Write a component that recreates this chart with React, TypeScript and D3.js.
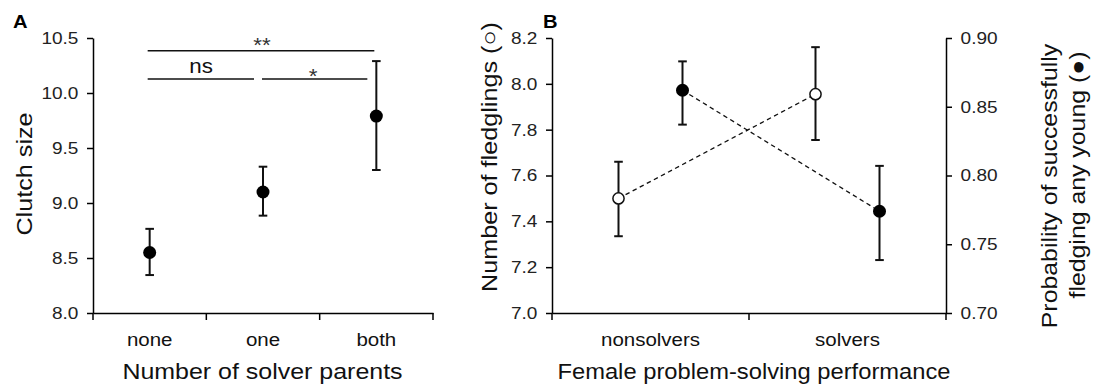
import { useEffect, useRef } from 'react';
import * as d3 from 'd3';

// Panel A: clutch size by number of solver parents
const parentGroups = ['none', 'one', 'both'];
const clutchMean = [8.55, 9.1, 9.79];
const clutchLower = [8.345, 8.885, 9.3];
const clutchUpper = [8.765, 9.33, 10.29];
const clutchTicks = [8.0, 8.5, 9.0, 9.5, 10.0, 10.5];

// Panel B: female problem-solving performance
const femaleGroups = ['nonsolvers', 'solvers'];
const fledglingMean = [7.5, 7.955];
const fledglingLower = [7.335, 7.755];
const fledglingUpper = [7.66, 8.16];
const successMean = [0.862, 0.774];
const successLower = [0.837, 0.7385];
const successUpper = [0.883, 0.807];
const fledglingTicks = [7.0, 7.2, 7.4, 7.6, 7.8, 8.0, 8.2];
const successTicks = [0.7, 0.75, 0.8, 0.85, 0.9];

const FONT = '"Liberation Sans", Arial, sans-serif';
const STRETCH = 'scale(1.12,1)';

export default function App() {
  const svgRef = useRef<SVGSVGElement>(null);
  const width = 1095;
  const height = 387;

  useEffect(() => {
    if (!svgRef.current) return;
    const svg = d3.select(svgRef.current);
    svg.selectAll('*').remove();
    svg.attr('font-family', FONT);

    const top = 38;
    const bottom = 313;

    // text helper: slightly wide glyphs like the original figure
    const label = (
      parent: d3.Selection<SVGGElement, unknown, null, undefined>,
      x: number, y: number, txt: string, size: number,
      opts: { rotate?: boolean; anchor?: string; weight?: string; fill?: string } = {}
    ) => {
      parent.append('g')
        .attr('transform', `translate(${x},${y})${opts.rotate ? ' rotate(-90)' : ''}`)
        .append('text')
        .attr('transform', STRETCH)
        .attr('text-anchor', opts.anchor ?? 'middle')
        .attr('font-size', size)
        .attr('font-weight', opts.weight ?? 'normal')
        .attr('fill', opts.fill ?? '#111')
        .text(txt);
    };

    const styleAxis = (a: d3.Selection<SVGGElement, unknown, null, undefined>, size: number) => {
      a.selectAll('path,line').attr('stroke', '#000').attr('stroke-width', 1.5);
      a.selectAll('text').attr('font-size', size).attr('fill', '#222').attr('font-family', FONT)
        .attr('transform', STRETCH);
    };

    // ---------- Panel A ----------
    const xA = d3.scaleBand().domain(parentGroups).range([93, 433]);
    const yA = d3.scaleLinear().domain([8, 10.5]).range([bottom, top]);
    const gA = svg.append('g');

    const axA = gA.append('g').attr('transform', 'translate(93,0)')
      .call(d3.axisLeft(yA).tickValues(clutchTicks).tickSize(6).tickSizeOuter(0).tickPadding(7).tickFormat(d3.format('.1f')));
    const axAx = gA.append('g').attr('transform', `translate(0,${bottom})`)
      .call(d3.axisBottom(xA).tickSize(0).tickPadding(20));
    styleAxis(axA, 17);
    styleAxis(axAx, 18.3);
    axAx.selectAll('text').attr('fill', '#111');

    const boundsA = [93, ...parentGroups.map(g => (xA(g) as number) + xA.bandwidth())];
    gA.selectAll('.btA').data(boundsA).enter().append('line')
      .attr('x1', d => d).attr('x2', d => d).attr('y1', bottom).attr('y2', bottom + 7)
      .attr('stroke', '#000').attr('stroke-width', 1.5);

    const cxA = (i: number) => (xA(parentGroups[i]) as number) + xA.bandwidth() / 2;
    parentGroups.forEach((_, i) => {
      const x = cxA(i);
      gA.append('line').attr('x1', x).attr('x2', x).attr('y1', yA(clutchLower[i])).attr('y2', yA(clutchUpper[i]))
        .attr('stroke', '#111').attr('stroke-width', 2);
      [clutchLower[i], clutchUpper[i]].forEach(v => {
        gA.append('line').attr('x1', x - 4.3).attr('x2', x + 4.3).attr('y1', yA(v)).attr('y2', yA(v))
          .attr('stroke', '#111').attr('stroke-width', 2);
      });
      gA.append('circle').attr('cx', x).attr('cy', yA(clutchMean[i])).attr('r', 6.5).attr('fill', '#000');
    });

    // significance brackets
    const sig = gA.append('g').attr('stroke', '#111').attr('stroke-width', 1.5);
    sig.append('line').attr('x1', cxA(0) - 2).attr('x2', cxA(2) - 2).attr('y1', 50.7).attr('y2', 50.7);
    sig.append('line').attr('x1', cxA(0) - 2).attr('x2', cxA(1) - 9).attr('y1', 79).attr('y2', 79);
    sig.append('line').attr('x1', cxA(1) - 1).attr('x2', cxA(2) - 9).attr('y1', 79).attr('y2', 79);
    label(gA, 262, 51.5, '**', 20, { fill: '#333' });
    label(gA, 201, 73, 'ns', 20);
    label(gA, 313, 83, '*', 20, { fill: '#333' });

    label(gA, 32, 174, 'Clutch size', 22.5, { rotate: true });
    label(gA, 262.5, 379, 'Number of solver parents', 22.3);
    label(gA, 13, 28, 'A', 18, { anchor: 'start', weight: 'bold', fill: '#000' });

    // ---------- Panel B ----------
    const xB = d3.scaleBand().domain(femaleGroups).range([552, 946]);
    const yL = d3.scaleLinear().domain([7.0, 8.2]).range([bottom, top]);
    const yR = d3.scaleLinear().domain([0.7, 0.9]).range([bottom, top]);
    const gB = svg.append('g');

    const axL = gB.append('g').attr('transform', 'translate(552,0)')
      .call(d3.axisLeft(yL).tickValues(fledglingTicks).tickSize(6).tickSizeOuter(0).tickPadding(7).tickFormat(d3.format('.1f')));
    const axR = gB.append('g').attr('transform', 'translate(946,0)')
      .call(d3.axisRight(yR).tickValues(successTicks).tickSize(6).tickSizeOuter(0).tickPadding(7).tickFormat(d3.format('.2f')));
    const axB = gB.append('g').attr('transform', `translate(0,${bottom})`)
      .call(d3.axisBottom(xB).tickSize(0).tickPadding(20));
    styleAxis(axL, 17);
    styleAxis(axR, 17);
    styleAxis(axB, 18.3);
    axB.selectAll('text').attr('fill', '#111');

    const boundsB = [552, ...femaleGroups.map(g => (xB(g) as number) + xB.bandwidth())];
    gB.selectAll('.btB').data(boundsB).enter().append('line')
      .attr('x1', d => d).attr('x2', d => d).attr('y1', bottom).attr('y2', bottom + 7)
      .attr('stroke', '#000').attr('stroke-width', 1.5);

    const offset = 32;
    const openX = (i: number) => (xB(femaleGroups[i]) as number) + xB.bandwidth() / 2 - offset;
    const fillX = (i: number) => (xB(femaleGroups[i]) as number) + xB.bandwidth() / 2 + offset;

    const line = d3.line<[number, number]>();
    gB.append('path')
      .attr('d', line(femaleGroups.map((_, i) => [openX(i), yL(fledglingMean[i])])))
      .attr('fill', 'none').attr('stroke', '#111').attr('stroke-width', 1.3).attr('stroke-dasharray', '4.5,3.5');
    gB.append('path')
      .attr('d', line(femaleGroups.map((_, i) => [fillX(i), yR(successMean[i])])))
      .attr('fill', 'none').attr('stroke', '#111').attr('stroke-width', 1.3).attr('stroke-dasharray', '4.5,3.5');

    const errBar = (x: number, y1: number, y2: number) => {
      gB.append('line').attr('x1', x).attr('x2', x).attr('y1', y1).attr('y2', y2).attr('stroke', '#111').attr('stroke-width', 2);
      [y1, y2].forEach(y => gB.append('line').attr('x1', x - 4.3).attr('x2', x + 4.3).attr('y1', y).attr('y2', y)
        .attr('stroke', '#111').attr('stroke-width', 2));
    };

    femaleGroups.forEach((_, i) => {
      errBar(openX(i), yL(fledglingLower[i]), yL(fledglingUpper[i]));
      errBar(fillX(i), yR(successLower[i]), yR(successUpper[i]));
      gB.append('circle').attr('cx', openX(i)).attr('cy', yL(fledglingMean[i])).attr('r', 5.6)
        .attr('fill', '#fff').attr('stroke', '#111').attr('stroke-width', 1.5);
      gB.append('circle').attr('cx', fillX(i)).attr('cy', yR(successMean[i])).attr('r', 6.5).attr('fill', '#000');
    });

    label(gB, 497, 157, 'Number of fledglings (○)', 22.5, { rotate: true });
    label(gB, 1057, 186, 'Probability of successfully', 22.2, { rotate: true });
    label(gB, 1085, 175, 'fledging any young (●)', 22.2, { rotate: true });
    label(gB, 754, 379, 'Female problem-solving performance', 21.2);
    label(gB, 543, 28, 'B', 18, { anchor: 'start', weight: 'bold', fill: '#000' });
  }, []);

  return (
    <svg
      ref={svgRef}
      width={width}
      height={height}
      style={{ position: 'absolute', left: 0, top: 0, background: '#fff' }}
    />
  );
}
